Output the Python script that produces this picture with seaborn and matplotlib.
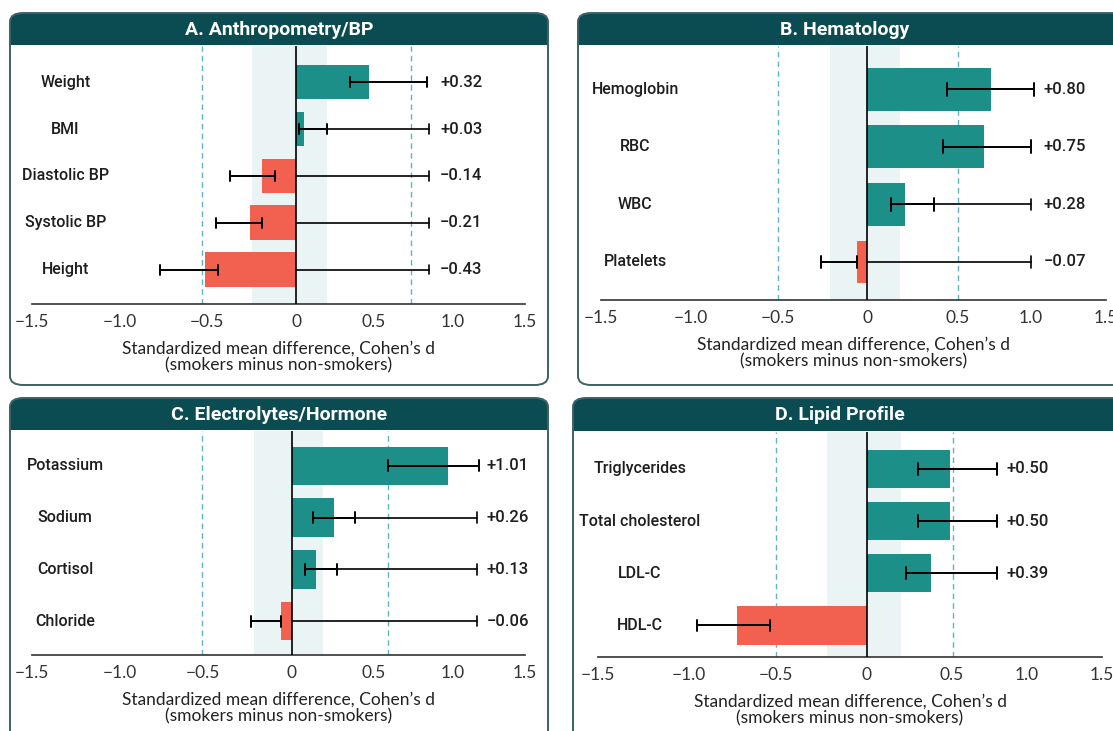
import numpy as np
import pandas as pd
import seaborn as sns
import matplotlib.pyplot as plt
from matplotlib.patches import FancyBboxPatch, Rectangle

sns.set_style("white")
plt.rcParams["font.family"] = ["Lato", "DejaVu Sans"]

# ---- data ----
a_names = ["Weight", "BMI", "Diastolic BP", "Systolic BP", "Height"]
a_bar = [0.47, 0.05, -0.19, -0.26, -0.51]
a_lo = [0.35, 0.02, -0.37, -0.45, -0.77]
a_hi = [0.84, 0.20, -0.12, -0.19, -0.44]
a_ext = [np.nan, 0.85, 0.85, 0.85, 0.85]
a_label = [0.32, 0.03, -0.14, -0.21, -0.43]

b_names = ["Hemoglobin", "RBC", "WBC", "Platelets"]
b_bar = [0.73, 0.68, 0.21, -0.06]
b_lo = [0.44, 0.42, 0.13, -0.26]
b_hi = [1.02, 1.00, 0.37, -0.06]
b_ext = [np.nan, np.nan, 1.00, 1.00]
b_label = [0.80, 0.75, 0.28, -0.07]

c_names = ["Potassium", "Sodium", "Cortisol", "Chloride"]
c_bar = [0.97, 0.26, 0.15, -0.06]
c_lo = [0.59, 0.13, 0.08, -0.23]
c_hi = [1.18, 0.39, 0.28, -0.06]
c_ext = [np.nan, 1.17, 1.17, 1.17]
c_label = [1.01, 0.26, 0.13, -0.06]

d_names = ["Triglycerides", "Total cholesterol", "LDL-C", "HDL-C"]
d_bar = [0.49, 0.49, 0.38, -0.72]
d_lo = [0.30, 0.30, 0.23, -0.95]
d_hi = [0.80, 0.80, 0.80, -0.53]
d_ext = [np.nan, np.nan, np.nan, np.nan]
d_label = [0.50, 0.50, 0.39, np.nan]

ticks = [-1.5, -1.0, -0.5, 0, 0.5, 1.0, 1.5]
tick_labels = ["\u22121.5", "\u22121.0", "\u22120.5", "0", "0.5", "1.0", "1.5"]

# the printed axes are not evenly spaced; pixel spots of each tick per panel
a_tickpx = [32.1, 119.6, 207.1, 296.4, 373.2, 452.9, 525.0]
b_tickpx = [601.6, 691.2, 778.7, 867.6, 957.9, 1030.9, 1106.0]
c_tickpx = [32.1, 119.6, 202.5, 291.8, 373.2, 452.9, 525.0]
d_tickpx = [598.1, 688.7, 775.9, 866.9, 952.2, 1027.4, 1102.5]

TEAL = "#1b8f88"
RED = "#f2614f"
HEAD = "#0b4c52"
BORDER = "#3d6166"
BAND = "#eaf4f4"
DASH = "#5fb3c3"
NARROW = ["Roboto", "DejaVu Sans"]

W, H = 1113, 731
fig = plt.figure(figsize=(W / 100, H / 100), dpi=100)


def fx(x):
    return x / W


def fy(y):
    return 1 - y / H


def panel(x0, y0, x1, y1, head_bottom, title, title_x):
    box = FancyBboxPatch((fx(x0), fy(y1)), fx(x1 - x0), (y1 - y0) / H,
                         boxstyle="round,pad=0,rounding_size=0.012",
                         transform=fig.transFigure, facecolor="white",
                         edgecolor="none", zorder=-3)
    fig.patches.append(box)
    head = Rectangle((fx(x0), fy(head_bottom)), fx(x1 - x0), (head_bottom - y0) / H,
                     transform=fig.transFigure, facecolor=HEAD, edgecolor="none",
                     zorder=-2)
    head.set_clip_path(box)
    fig.patches.append(head)
    edge = FancyBboxPatch((fx(x0), fy(y1)), fx(x1 - x0), (y1 - y0) / H,
                          boxstyle="round,pad=0,rounding_size=0.012",
                          transform=fig.transFigure, facecolor="none",
                          edgecolor=BORDER, linewidth=1.4, zorder=-1)
    fig.patches.append(edge)
    fig.text(fx(title_x), fy((y0 + head_bottom) / 2 + 1), title, color="white",
             fontsize=14, fontweight="bold", family=NARROW,
             ha="center", va="center")


def forest(rect, tickpx, names, bar, lo, hi, ext, label, dashes, band, label_x, ylim,
           name_x=-1.31):
    x0, y0, x1, y1 = rect
    ax = fig.add_axes([fx(x0), fy(y1), fx(x1 - x0), (y1 - y0) / H])
    ax.set_facecolor("none")
    ax.set_xscale("function",
                  functions=(lambda v: np.interp(v, ticks, tickpx),
                             lambda p: np.interp(p, tickpx, ticks)))
    df = pd.DataFrame({"marker": names, "d": bar,
                       "dir": ["pos" if v > 0 else "neg" for v in bar]})
    ax.axvspan(band[0], band[1], color=BAND, zorder=0, lw=0)
    for xv in dashes:
        ax.axvline(xv, color=DASH, lw=1, ls=(0, (4, 3)), zorder=1)
    sns.barplot(data=df, x="d", y="marker", hue="dir", orient="h",
                palette={"pos": TEAL, "neg": RED}, dodge=False, legend=False,
                width=0.74, linewidth=0, saturation=1, ax=ax, zorder=2)
    ax.axvline(0, color="black", lw=1.2, zorder=3)
    for i in range(len(names)):
        if not np.isnan(ext[i]):
            start = max(0, lo[i])
            ax.plot([start, ext[i]], [i, i], color="black", lw=1.2, zorder=4)
            ax.plot([ext[i], ext[i]], [i - 0.1, i + 0.1], color="black", lw=1.2, zorder=4)
    for i in range(len(names)):
        ax.plot([lo[i], hi[i]], [i, i], color="black", lw=1.4, zorder=5)
        for e in (lo[i], hi[i]):
            ax.plot([e, e], [i - 0.11, i + 0.11], color="black", lw=1.4, zorder=5)
    for i, name in enumerate(names):
        ax.text(name_x, i, name, ha="center", va="center", fontsize=11.5,
                family=NARROW, fontweight="medium", color="#1e1e1e")
        if not np.isnan(label[i]):
            txt = f"{label[i]:+.2f}".replace("-", "\u2212")
            ax.text(label_x, i, txt, ha="left", va="center", fontsize=12,
                    family=NARROW, fontweight="medium", color="#1e1e1e")
    ax.set_xlim(-1.5, 1.5)
    ax.set_ylim(*ylim)
    ax.set_yticks([])
    ax.set_ylabel("")
    ax.set_xticks(ticks)
    ax.set_xticklabels(tick_labels)
    ax.minorticks_off()
    ax.tick_params(axis="x", direction="in", length=6, width=1.2, labelsize=12.5,
                   colors="#333333", pad=7)
    for s in ["top", "right", "left"]:
        ax.spines[s].set_visible(False)
    ax.spines["bottom"].set_color("#333333")
    ax.spines["bottom"].set_linewidth(1.2)
    ax.set_xlabel("Standardized mean difference, Cohen\u2019s d\n(smokers minus non-smokers)",
                  fontsize=12.5, color="#222222", labelpad=8, linespacing=1.05)
    return ax


panel(10, 13, 548, 385, 45, "A. Anthropometry/BP", 279)
panel(578, 13, 1140, 385, 45, "B. Hematology", 845)
panel(10, 398, 548, 760, 430, "C. Electrolytes/Hormone", 279)
panel(573, 398, 1140, 760, 431, "D. Lipid Profile", 840)

forest((32, 46, 525, 304), a_tickpx, a_names, a_bar, a_lo, a_hi, a_ext, a_label,
       [-0.53, 0.735], (-0.25, 0.2), 0.92, (4.73, -0.77))
forest((601, 46, 1106, 300), b_tickpx, b_names, b_bar, b_lo, b_hi, b_ext, b_label,
       [-0.5, 0.5], (-0.21, 0.18), 1.087, (3.66, -0.75))
forest((32, 431, 525, 655), c_tickpx, c_names, c_bar, c_lo, c_hi, c_ext, c_label,
       [-0.5, 0.59], (-0.21, 0.19), 1.236, (3.65, -0.67))
forest((598, 432, 1102, 657), d_tickpx, d_names, d_bar, d_lo, d_hi, d_ext, d_label,
       [-0.5, 0.51], (-0.22, 0.2), 0.864, (3.61, -0.71), name_x=-1.27)

plt.savefig("out.png", dpi=100)
